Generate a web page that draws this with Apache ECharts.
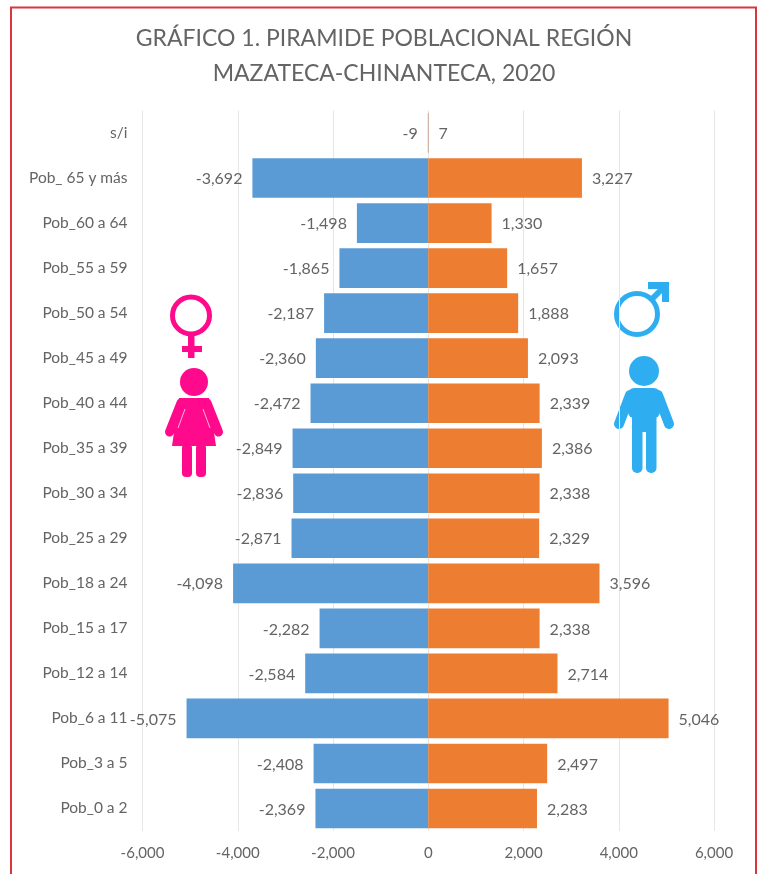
<!DOCTYPE html>
<html>
<head>
<meta charset="utf-8">
<style>
html,body{margin:0;padding:0;background:#fff;}
#main{width:757px;height:874px;}
</style>
<script src="https://cdn.jsdelivr.net/npm/echarts@6/dist/echarts.min.js"></script>
</head>
<body>
<div id="main"></div>
<script>
// de abajo hacia arriba, igual que el eje de categorias
var categorias = ['Pob_0 a 2','Pob_3 a 5','Pob_6 a 11','Pob_12 a 14','Pob_15 a 17','Pob_18 a 24','Pob_25 a 29','Pob_30 a 34','Pob_35 a 39','Pob_40 a 44','Pob_45 a 49','Pob_50 a 54','Pob_55 a 59','Pob_60 a 64','Pob_ 65 y más','s/i'];
var mujeres = [-2369,-2408,-5075,-2584,-2282,-4098,-2871,-2836,-2849,-2472,-2360,-2187,-1865,-1498,-3692,-9];
var hombres = [2283,2497,5046,2714,2338,3596,2329,2338,2386,2339,2093,1888,1657,1330,3227,7];
var ticks = [-6000,-4000,-2000,0,2000,4000,6000];

var fuente = 'Lato,"Open Sans",sans-serif';
var gris = '#646464';
var rosa = '#ff0a8c';
var azul = '#2eaef0';

function miles(v){
    return echarts.format.addCommas(v);
}
// trazo redondeado para brazos de las figuras
function brazo(x1,y1,x2,y2,color,ancho){
    return {type: 'line', silent: true, shape: {x1: x1, y1: y1, x2: x2, y2: y2},
        style: {stroke: color, lineWidth: ancho, lineCap: 'round'}};
}

var myChart = echarts.init(document.getElementById('main'));
myChart.setOption({
    animation: false,
    backgroundColor: '#fff',
    textStyle: {fontFamily: fuente},
    title: {
        text: 'GRÁFICO 1. PIRAMIDE POBLACIONAL REGIÓN\nMAZATECA-CHINANTECA, 2020',
        left: 379, top: 16, textAlign: 'center',
        textStyle: {color: gris, fontFamily: fuente, fontSize: 23, fontWeight: 'normal', lineHeight: 35}
    },
    grid: {left: 142.5, right: 43, top: 110.5, bottom: 43},
    xAxis: {
        type: 'value',
        min: ticks[0], max: ticks[ticks.length-1], interval: 2000,
        axisLine: {show: false},
        axisTick: {show: false},
        splitLine: {lineStyle: {color: '#e6e6e6', width: 1}},
        axisLabel: {color: gris, fontSize: 15, margin: 15, formatter: miles}
    },
    yAxis: {
        type: 'category',
        data: categorias,
        axisLine: {show: false},
        axisTick: {show: false},
        axisLabel: {color: gris, fontSize: 15.5, margin: 15}
    },
    series: [
        {
            name: 'Mujeres', type: 'bar', stack: 'total', data: mujeres,
            barCategoryGap: '12%',
            itemStyle: {color: '#5b9bd5'},
            label: {show: true, position: 'left', distance: 10, offset: [0,1], color: gris, fontSize: 16,
                formatter: function(p){return miles(p.value);}}
        },
        {
            name: 'Hombres', type: 'bar', stack: 'total', data: hombres,
            barCategoryGap: '12%',
            itemStyle: {color: '#ed7d31'},
            label: {show: true, position: 'right', distance: 10, offset: [0,1], color: gris, fontSize: 16,
                formatter: function(p){return miles(p.value);}}
        }
    ],
    graphic: [
        // marco rojo, sin borde inferior
        {type: 'polyline', silent: true, shape: {points: [[11,874],[11,7.5],[756,7.5],[756,874]]}, style: {stroke: '#d9363e', lineWidth: 2, fill: null}},
        // simbolo femenino
        {type: 'circle', silent: true, shape: {cx: 191, cy: 315.5, r: 18.5}, style: {fill: null, stroke: rosa, lineWidth: 5}},
        {type: 'rect', silent: true, shape: {x: 188, y: 336, width: 6.5, height: 22}, style: {fill: rosa}},
        {type: 'rect', silent: true, shape: {x: 182, y: 346, width: 20, height: 6}, style: {fill: rosa}},
        // figura femenina
        {type: 'circle', silent: true, shape: {cx: 194, cy: 382, r: 14}, style: {fill: rosa}},
        {type: 'polygon', silent: true, shape: {points: [[179,398],[209,398],[216,446],[172,446]]}, style: {fill: rosa}},
        brazo(181,403,169.5,432,rosa,9),
        brazo(207,403,218.5,432,rosa,9),
        {type: 'line', silent: true, shape: {x1: 185, y1: 409, x2: 178, y2: 428}, style: {stroke: '#ffb3d9', lineWidth: 1}},
        {type: 'line', silent: true, shape: {x1: 203, y1: 409, x2: 210, y2: 428}, style: {stroke: '#ffb3d9', lineWidth: 1}},
        {type: 'rect', silent: true, shape: {x: 182, y: 444, width: 10, height: 33, r: 4}, style: {fill: rosa}},
        {type: 'rect', silent: true, shape: {x: 196, y: 444, width: 10, height: 33, r: 4}, style: {fill: rosa}},
        // simbolo masculino
        {type: 'circle', silent: true, shape: {cx: 637, cy: 314, r: 20.5}, style: {fill: null, stroke: azul, lineWidth: 5}},
        {type: 'line', silent: true, shape: {x1: 650, y1: 301, x2: 667, y2: 284}, style: {stroke: azul, lineWidth: 6}},
        {type: 'polygon', silent: true, shape: {points: [[648,282],[669,282],[669,302],[662,302],[662,289],[648,289]]}, style: {fill: azul}},
        // figura masculina
        {type: 'circle', silent: true, shape: {cx: 644, cy: 371, r: 15}, style: {fill: azul}},
        {type: 'rect', silent: true, shape: {x: 628, y: 388, width: 32, height: 30, r: 6}, style: {fill: azul}},
        brazo(630,395,619,424,azul,10),
        brazo(658,395,669,424,azul,10),
        {type: 'rect', silent: true, shape: {x: 632, y: 405, width: 10.5, height: 68, r: 5}, style: {fill: azul}},
        {type: 'rect', silent: true, shape: {x: 646, y: 405, width: 10.5, height: 68, r: 5}, style: {fill: azul}},
        {type: 'rect', silent: true, shape: {x: 640, y: 405, width: 8, height: 27}, style: {fill: azul}}
    ]
});
</script>
</body>
</html>
